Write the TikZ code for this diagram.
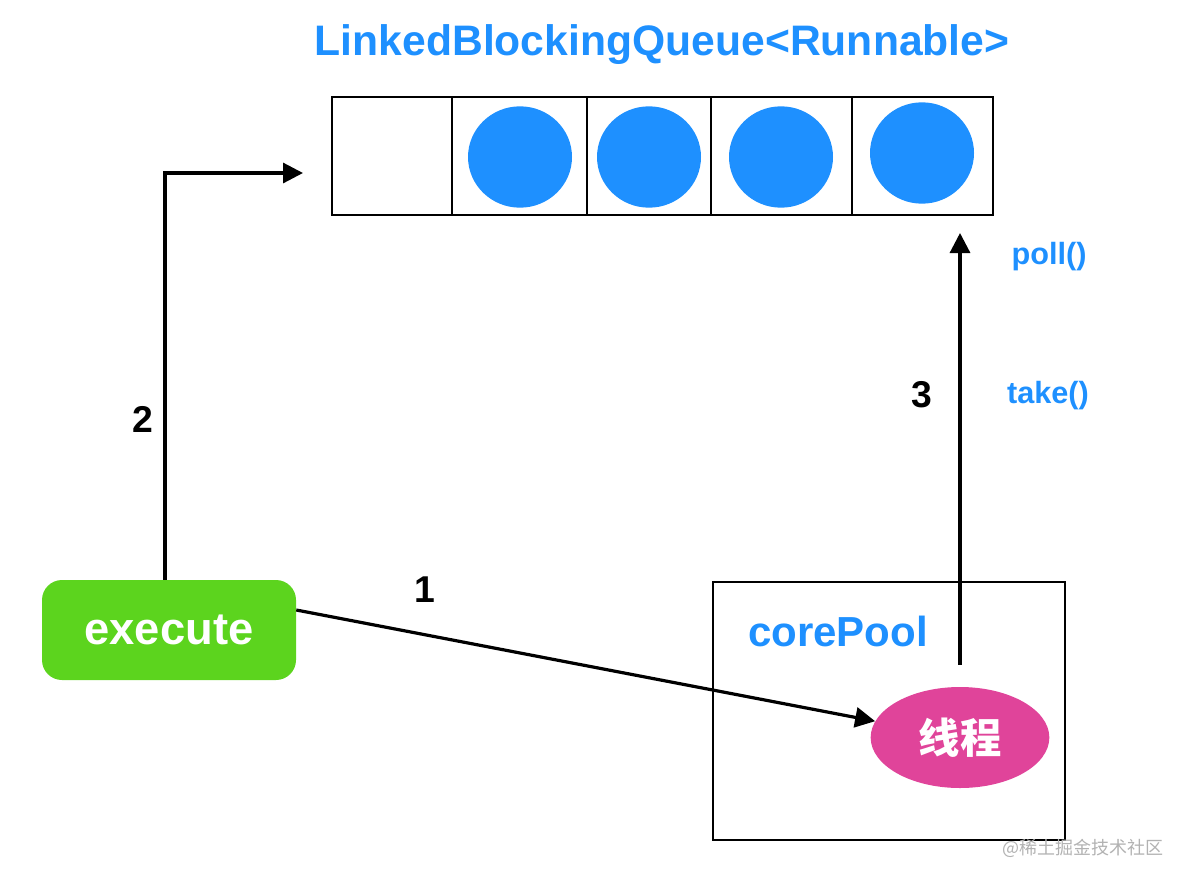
\documentclass[tikz,border=0pt]{standalone}
\usepackage{fontspec}
\setmainfont{Liberation Sans}
\newfontfamily\cjk{Noto Sans CJK SC}
\usetikzlibrary{arrows.meta,shapes.geometric}
\definecolor{qblue}{HTML}{1E90FF}
\definecolor{execgreen}{HTML}{5CD41E}
\definecolor{threadpink}{HTML}{E0449A}

\begin{document}
\begin{tikzpicture}[x=0.75pt,y=-0.75pt]
	\tikzstyle{cell}=[rectangle,draw,line width=1.9pt,minimum height=88.5pt,inner sep=0pt]
	\tikzstyle{token}=[ellipse,fill=qblue,minimum width=78pt,minimum height=76pt,inner sep=0pt]
	\tikzstyle{numtext}=[font=\bfseries\fontsize{28}{32}\selectfont]
	\tikzstyle{bluetext}=[text=qblue,font=\bfseries\fontsize{23}{26}\selectfont]
	\tikzstyle{flow}=[line width=2.4pt,-{Triangle[length=15pt,width=15pt]}]
	\useasboundingbox (0,0) rectangle (1188,882);
	\node (title) at (662,45) [text=qblue,font=\bfseries\fontsize{32}{36}\selectfont] {LinkedBlockingQueue<Runnable>};
	\node (cell0) at (392,156)   [cell,minimum width=90pt] {};
	\node (cell1) at (519.5,156) [cell,minimum width=101.25pt] {};
	\node (cell2) at (649,156)   [cell,minimum width=93pt] {};
	\node (cell3) at (781.5,156) [cell,minimum width=105.75pt] {};
	\node (cell4) at (922.5,156) [cell,minimum width=105.75pt] {};
	\node (token1) at (520,157) [token] {};
	\node (token2) at (649,157) [token] {};
	\node (token3) at (781,157) [token] {};
	\node (token4) at (922,153) [token] {};
	\node (exec) at (169,630) [rectangle,rounded corners=15pt,fill=execgreen,minimum width=190.5pt,minimum height=75pt,text=white,font=\bfseries\fontsize{34}{40}\selectfont] {execute};
	\node (pool) at (889,711) [rectangle,draw,line width=1.6pt,minimum width=264pt,minimum height=193.5pt] {};
	\node (pooltext) at (838,631) [text=qblue,font=\bfseries\fontsize{31.5}{36}\selectfont] {corePool};
	\node (thread) at (960,737.5) [ellipse,fill=threadpink,minimum width=134pt,minimum height=75.75pt,inner sep=0pt,text=white,font=\cjk\bfseries\fontsize{31}{36}\selectfont] {线程};
	\coordinate (qin) at (303,173);
	\coordinate (qout) at (960,233);
	\draw [flow] ([xshift=-3pt]exec.north) |- (qin);
	\draw [flow] ([yshift=15pt]exec.east) -- (thread);
	\draw [flow] ([yshift=16.5pt]thread.north) -- (qout);
	\node (num1) at (425,590) [numtext] {1};
	\node (num2) at (143,419) [numtext] {2};
	\node (num3) at (922,395) [numtext] {3};
	\node (take) at (1048,396) [bluetext] {take()};
	\node (poll) at (1049,257) [bluetext] {poll()};
	\node (mark) at (1083,848) [text=black!30,font=\cjk\fontsize{13.5}{16}\selectfont] {@稀土掘金技术社区};
\end{tikzpicture}
\end{document}
